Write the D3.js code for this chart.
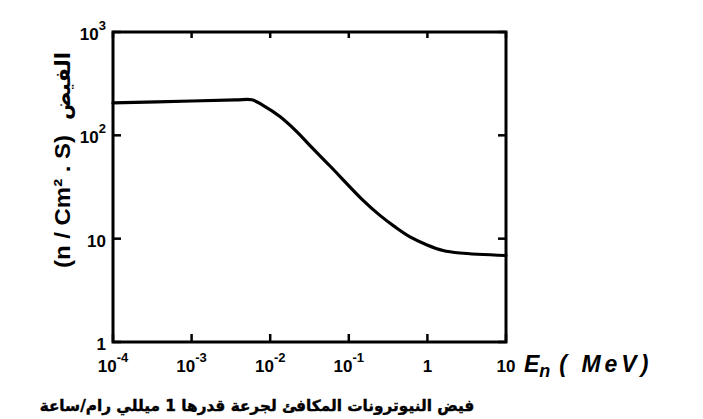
<!DOCTYPE html>
<html><head><meta charset="utf-8">
<script src="https://cdn.jsdelivr.net/npm/d3@7"></script>
<style>body{margin:0;background:#fff} svg{display:block}</style>
</head><body><svg id="c" width="703" height="419"></svg>
<script>
// Data
const energy = [1e-4, 1e-3, 3.67e-3, 5.86e-3, 8.1e-3, 1.33e-2, 2.19e-2, 3.21e-2, 5.77e-2, 0.152, 0.249, 0.387, 0.601, 0.99, 1.58, 2.6, 10];
const flux   = [206, 215, 220, 221, 195, 152, 108, 79.5, 50.5, 23.5, 16.8, 13.0, 10.4, 8.7, 7.69, 7.27, 6.87];
const xTicks = [1e-4, 1e-3, 1e-2, 1e-1, 1, 10];
const xTickBase = ["10", "10", "10", "10", "1", "10"];
const xTickExp  = ["-4", "-3", "-2", "-1", "", ""];
const yTicks = [1, 10, 100, 1000];
const yTickBase = ["1", "10", "10", "10"];
const yTickExp  = ["", "", "2", "3"];
const yTitleLatin = "(n / Cm² . S)";
const yTitleArabic = "الفيض";
const xTitleMain = "E";
const xTitleSub = "n";
const xTitleUnit = "( MeV)";
const caption = "فيض النيوترونات المكافئ لجرعة قدرها 1 ميللي رام/ساعة";

const svg = d3.select("#c");
const L = 113, R = 506, T = 32, B = 342;
const x = d3.scaleLog().domain([1e-4, 10]).range([L, R]);
const y = d3.scaleLog().domain([1, 1000]).range([B, T]);
const font = "'Liberation Sans', Arial, sans-serif";
const tk = 8;

// inward ticks on all four sides
const tg = svg.append("g").attr("stroke", "#000").attr("stroke-width", 2.5);
tg.selectAll("line.xb").data(xTicks).join("line").attr("class", "xb")
  .attr("x1", d => x(d)).attr("x2", d => x(d)).attr("y1", B).attr("y2", B - tk);
tg.selectAll("line.xt").data(xTicks).join("line").attr("class", "xt")
  .attr("x1", d => x(d)).attr("x2", d => x(d)).attr("y1", T).attr("y2", T + tk - 2);
tg.selectAll("line.yl").data(yTicks).join("line").attr("class", "yl")
  .attr("x1", L).attr("x2", L + tk).attr("y1", d => y(d)).attr("y2", d => y(d));
tg.selectAll("line.yr").data(yTicks).join("line").attr("class", "yr")
  .attr("x1", R).attr("x2", R - tk).attr("y1", d => y(d)).attr("y2", d => y(d));

// frame
svg.append("rect").attr("x", L).attr("y", T).attr("width", R - L).attr("height", B - T)
  .attr("fill", "none").attr("stroke", "#000").attr("stroke-width", 3);

// curve
const pts = energy.map((e, i) => [e, flux[i]]);
const line = d3.line().x(d => x(d[0])).y(d => y(d[1])).curve(d3.curveCatmullRom.alpha(0.5));
svg.append("path").datum(pts)
  .attr("fill", "none").attr("stroke", "#000").attr("stroke-width", 3.2)
  .attr("stroke-linejoin", "round").attr("stroke-linecap", "round")
  .attr("d", line);

// x tick labels
xTicks.forEach((v, i) => {
  const t = svg.append("text").attr("x", x(v)).attr("y", 372)
    .attr("text-anchor", "middle").attr("font-family", font).attr("font-weight", "bold")
    .attr("font-size", 17).attr("fill", "#000");
  t.append("tspan").text(xTickBase[i]);
  if (xTickExp[i]) t.append("tspan").attr("dy", -10).attr("font-size", 13).text(xTickExp[i]);
});

// y tick labels
yTicks.forEach((v, i) => {
  const t = svg.append("text").attr("x", 106).attr("y", y(v) + 8)
    .attr("text-anchor", "end").attr("font-family", font).attr("font-weight", "bold")
    .attr("font-size", 17).attr("fill", "#000");
  t.append("tspan").text(yTickBase[i]);
  if (yTickExp[i]) t.append("tspan").attr("dy", -10).attr("font-size", 13).text(yTickExp[i]);
});

// x title
const xt = svg.append("text").attr("x", 524).attr("y", 372)
  .attr("font-family", font).attr("font-weight", "bold").attr("font-style", "italic")
  .attr("font-size", 23).attr("fill", "#000");
xt.append("tspan").text(xTitleMain);
xt.append("tspan").attr("dy", 5).attr("font-size", 18).text(xTitleSub);
xt.append("tspan").attr("dy", -5).attr("dx", 9).attr("letter-spacing", 4).text(xTitleUnit);

// y title (rotated)
svg.append("text").attr("transform", "translate(70,268) rotate(-90)")
  .attr("font-family", font).attr("font-weight", "bold").attr("font-size", 22).attr("fill", "#000")
  .attr("textLength", 133).attr("lengthAdjust", "spacingAndGlyphs").text(yTitleLatin);

const ya = svg.append("text").attr("transform", "translate(70,120) rotate(-90)")
  .attr("font-family", "'DejaVu Sans', sans-serif").attr("font-weight", "bold")
  .attr("font-size", 20).attr("fill", "#000").attr("direction", "rtl")
  .attr("text-anchor", "end").text(yTitleArabic);
{
  const w = ya.node().getComputedTextLength();
  ya.attr("font-size", 20 * 68 / w);
}

// caption
const cap = svg.append("text").attr("x", 257).attr("y", 411)
  .attr("text-anchor", "middle").attr("direction", "rtl")
  .attr("font-family", "'DejaVu Sans', sans-serif").attr("font-weight", "bold")
  .attr("font-size", 16).attr("fill", "#000").attr("stroke", "#000").attr("stroke-width", 0.4)
  .text(caption);
{
  const w = cap.node().getComputedTextLength();
  cap.attr("font-size", 16 * 435 / w);
}
</script></body></html>
